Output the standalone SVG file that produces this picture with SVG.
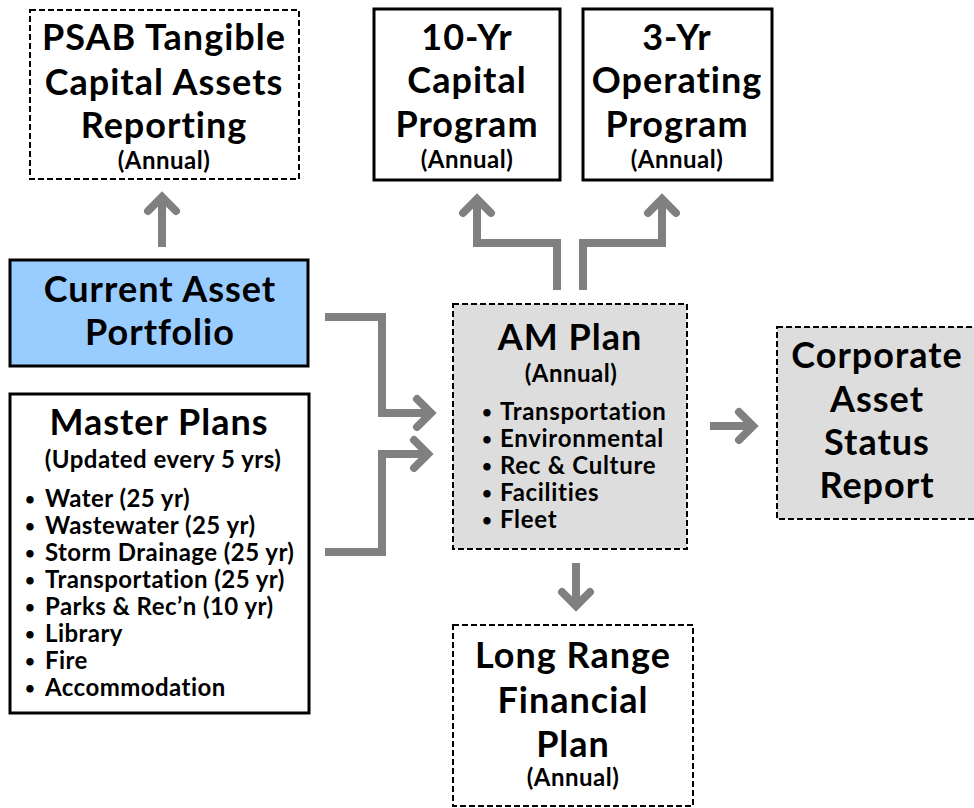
<svg xmlns="http://www.w3.org/2000/svg" width="974" height="808" viewBox="0 0 974 808">
<defs>
<style>
.t{font-family:Lato,"Liberation Sans",sans-serif;font-weight:bold;fill:#000;text-anchor:middle}
.big{font-size:36px;letter-spacing:1px}
.sm{font-size:24px;letter-spacing:0.5px}
.li{font-family:Lato,"Liberation Sans",sans-serif;font-weight:bold;fill:#000;font-size:24px;letter-spacing:0.7px}
.ml{letter-spacing:0.45px}
.bu{font-family:Lato,"Liberation Sans",sans-serif;font-weight:bold;fill:#000;font-size:17px;text-anchor:middle}
.solid{stroke:#000;stroke-width:3}
.dash{stroke:#000;stroke-width:2;stroke-dasharray:6 3}
.conn{fill:none;stroke:#808080;stroke-width:8;stroke-linejoin:miter}
</style>
<marker id="chev" markerUnits="userSpaceOnUse" viewBox="-30 -20 40 40" markerWidth="40" markerHeight="40" refX="0" refY="0" orient="auto">
<path d="M-15,-14 L-1,0 L-15,14" fill="none" stroke="#808080" stroke-width="8" stroke-linecap="round"/>
</marker>
</defs>
<rect width="974" height="808" fill="#fff"/>
<g id="psab">
<rect x="30" y="10" width="269" height="169" fill="#fff" class="dash"/>
<text class="t big" x="164" y="50">PSAB Tangible</text>
<text class="t big" x="164" y="95">Capital Assets</text>
<text class="t big" x="164" y="138">Reporting</text>
<text class="t sm" x="164" y="169">(Annual)</text>
</g>
<g id="cap10">
<rect x="374" y="9" width="186" height="171" fill="#fff" class="solid"/>
<text class="t big" x="467" y="50">10-Yr</text>
<text class="t big" x="467" y="93">Capital</text>
<text class="t big" x="467" y="137">Program</text>
<text class="t sm" x="467" y="168">(Annual)</text>
</g>
<g id="op3">
<rect x="583" y="9" width="189" height="171" fill="#fff" class="solid"/>
<text class="t big" x="677" y="50">3-Yr</text>
<text class="t big" x="677" y="93">Operating</text>
<text class="t big" x="677" y="137">Program</text>
<text class="t sm" x="677" y="168">(Annual)</text>
</g>
<g id="portfolio">
<rect x="10" y="260" width="298" height="106" fill="#99CCFF" class="solid"/>
<text class="t big" x="160" y="302">Current Asset</text>
<text class="t big" x="160" y="345">Portfolio</text>
</g>
<g id="master">
<rect x="10" y="394" width="299" height="319" fill="#fff" class="solid"/>
<text class="t big" x="159" y="435">Master Plans</text>
<text class="t sm" x="163" y="468">(Updated every 5 yrs)</text>
<text class="bu" x="30" y="505">•</text><text class="li ml" x="45" y="507">Water (25 yr)</text>
<text class="bu" x="30" y="532">•</text><text class="li ml" x="45" y="534">Wastewater (25 yr)</text>
<text class="bu" x="30" y="559">•</text><text class="li ml" x="45" y="561">Storm Drainage (25 yr)</text>
<text class="bu" x="30" y="586">•</text><text class="li ml" x="45" y="588">Transportation (25 yr)</text>
<text class="bu" x="30" y="613">•</text><text class="li ml" x="45" y="615">Parks &amp; Rec’n (10 yr)</text>
<text class="bu" x="30" y="640">•</text><text class="li ml" x="45" y="642">Library</text>
<text class="bu" x="30" y="667">•</text><text class="li ml" x="45" y="669">Fire</text>
<text class="bu" x="30" y="694">•</text><text class="li ml" x="45" y="696">Accommodation</text>
</g>
<g id="amplan">
<rect x="453" y="304" width="234" height="245" fill="#DDDDDD" class="dash"/>
<text class="t big" x="570" y="350">AM Plan</text>
<text class="t sm" x="571" y="382">(Annual)</text>
<text class="bu" x="487" y="418">•</text><text class="li" x="500" y="420">Transportation</text>
<text class="bu" x="487" y="445">•</text><text class="li" x="500" y="447">Environmental</text>
<text class="bu" x="487" y="472">•</text><text class="li" x="500" y="474">Rec &amp; Culture</text>
<text class="bu" x="487" y="499">•</text><text class="li" x="500" y="501">Facilities</text>
<text class="bu" x="487" y="526">•</text><text class="li" x="500" y="528">Fleet</text>
</g>
<g id="corporate">
<rect x="777" y="327" width="205" height="192" fill="#DDDDDD" class="dash"/>
<text class="t big" x="877" y="368">Corporate</text>
<text class="t big" x="877" y="412">Asset</text>
<text class="t big" x="877" y="455">Status</text>
<text class="t big" x="877" y="498">Report</text>
</g>
<g id="lrfp">
<rect x="453" y="625" width="240" height="181" fill="#fff" class="dash"/>
<text class="t big" x="573" y="668">Long Range</text>
<text class="t big" x="573" y="713">Financial</text>
<text class="t big" x="573" y="757">Plan</text>
<text class="t sm" x="573" y="786">(Annual)</text>
</g>
<g id="connectors">
<path class="conn" d="M162,247 V196" marker-end="url(#chev)"/>
<path class="conn" d="M325,317 H382 V413 H432" marker-end="url(#chev)"/>
<path class="conn" d="M325,552 H382 V454 H429" marker-end="url(#chev)"/>
<path class="conn" d="M557,290 V243 H477 V198" marker-end="url(#chev)"/>
<path class="conn" d="M583,290 V243 H662 V198" marker-end="url(#chev)"/>
<path class="conn" d="M710,426 H754" marker-end="url(#chev)"/>
<path class="conn" d="M576,563 V607" marker-end="url(#chev)"/>
</g>
</svg>
